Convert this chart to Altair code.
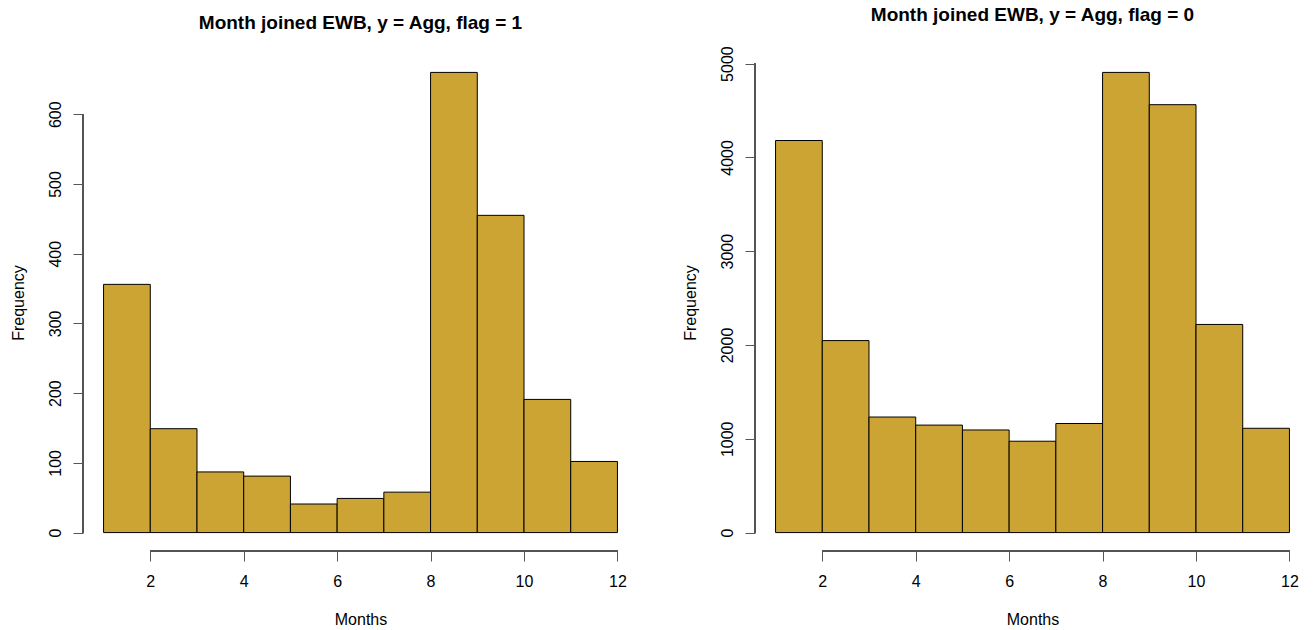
import altair as alt
import pandas as pd

# ---- data ----
bin_start = [1, 2, 3, 4, 5, 6, 7, 8, 9, 10, 11]
bin_end = [2, 3, 4, 5, 6, 7, 8, 9, 10, 11, 12]
flag1_counts = [356, 149, 87, 81, 41, 49, 58, 660, 455, 191, 102]
flag0_counts = [4180, 2047, 1232, 1146, 1094, 974, 1163, 4906, 4562, 2219, 1112]
x_ticks = [2, 4, 6, 8, 10, 12]
flag1_yticks = [0, 100, 200, 300, 400, 500, 600]
flag0_yticks = [0, 1000, 2000, 3000, 4000, 5000]
titles = ["Month joined EWB, y = Agg, flag = 1", "Month joined EWB, y = Agg, flag = 0"]

FONT = "Liberation Sans"
BAR = "#CBA434"
AXC = "#555555"
W, H = 555, 497


def panel(counts, yticks, title):
    df = pd.DataFrame({"start": bin_start, "end": bin_end, "count": counts})
    ymax = max(counts)
    ydom = [-0.04 * ymax, 1.04 * ymax]
    xdom = [1 - 0.04 * 11, 12 + 0.04 * 11]
    xscale = alt.Scale(domain=xdom, nice=False, zero=False)
    yscale = alt.Scale(domain=ydom, nice=False, zero=False)

    bars = alt.Chart(df).mark_rect(
        fill=BAR, stroke="black", strokeWidth=1
    ).encode(
        x=alt.X("start:Q", scale=xscale,
                axis=alt.Axis(values=x_ticks, domain=False, grid=False, tickSize=10,
                              tickColor=AXC, tickWidth=1, labelFontSize=16, labelFont=FONT,
                              labelColor="black", labelPadding=12, labelFlush=False,
                              labelOverlap=False, title="Months", titleFont=FONT,
                              titleFontSize=16, titleFontWeight="normal", titleColor="black",
                              titleBaseline="alphabetic", titleY=73.5, format="d")),
        x2="end:Q",
        y=alt.Y("count:Q", scale=yscale,
                axis=alt.Axis(values=yticks, domain=False, grid=False, tickSize=10,
                              tickColor=AXC, tickWidth=1, labelFontSize=16, labelFont=FONT,
                              labelColor="black", labelAngle=270, labelAlign="center",
                              labelBaseline="bottom", labelPadding=10, labelFlush=False,
                              labelOverlap=False, title="Frequency", titleFont=FONT,
                              titleFontSize=16, titleFontWeight="normal", titleColor="black",
                              titleAngle=270, titleBaseline="alphabetic", titleX=-60,
                              titleY=H / 2, titleAlign="center", format="d")),
        y2=alt.Y2Datum(0),
    )

    xrule = alt.Chart(df).mark_rule(color=AXC, strokeWidth=1).encode(
        x=alt.XDatum(x_ticks[0], scale=xscale),
        x2=alt.X2Datum(x_ticks[-1]),
        y=alt.value(H),
    )
    yrule = alt.Chart(df).mark_rule(color=AXC, strokeWidth=1).encode(
        x=alt.value(0),
        y=alt.YDatum(yticks[0], scale=yscale),
        y2=alt.Y2Datum(yticks[-1]),
    )

    return alt.layer(bars, xrule, yrule).properties(
        width=W, height=H,
        title=alt.TitleParams(title, font=FONT, fontSize=19, fontWeight="bold",
                              color="black", anchor="middle", baseline="alphabetic",
                              offset=6, frame="group"),
    )


chart = alt.hconcat(
    panel(flag1_counts, flag1_yticks, titles[0]),
    panel(flag0_counts, flag0_yticks, titles[1]),
    spacing=44,
).properties(
    padding={"left": 10, "top": 5, "right": 2, "bottom": 0},
    background="white",
).configure_view(strokeWidth=0)

chart.save("out.html", embed_options={"renderer": "svg", "actions": False})
